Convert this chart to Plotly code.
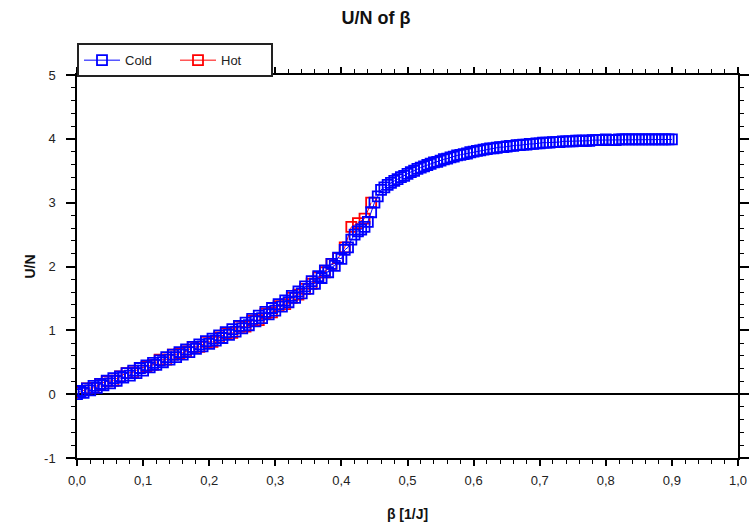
import plotly.graph_objects as go

# ---- data ----
cold_beta = [round(0.005 * i, 3) for i in range(181)]
cold_u = [
    0.00, 0.05, 0.02, 0.09, 0.06, 0.13, 0.10, 0.16, 0.14, 0.21,
    0.17, 0.25, 0.21, 0.28, 0.26, 0.33, 0.29, 0.37, 0.33, 0.41,
    0.37, 0.45, 0.42, 0.49, 0.46, 0.53, 0.50, 0.58, 0.54, 0.62,
    0.58, 0.66, 0.62, 0.70, 0.66, 0.74, 0.71, 0.78, 0.75, 0.83,
    0.79, 0.87, 0.84, 0.92, 0.88, 0.97, 0.93, 1.02, 0.98, 1.07,
    1.03, 1.12, 1.08, 1.18, 1.14, 1.23, 1.19, 1.29, 1.25, 1.35,
    1.31, 1.41, 1.37, 1.47, 1.44, 1.54, 1.51, 1.61, 1.58, 1.69,
    1.65, 1.77, 1.73, 1.85, 1.82, 1.94, 1.91, 2.04, 2.01, 2.14,
    2.12, 2.26, 2.30, 2.42, 2.50, 2.55, 2.58, 2.62, 2.70, 2.85,
    3.00, 3.10, 3.20, 3.24, 3.28, 3.31, 3.34, 3.37, 3.40, 3.42,
    3.45, 3.48, 3.50, 3.53, 3.55, 3.57, 3.59, 3.61, 3.63, 3.64,
    3.66, 3.68, 3.69, 3.71, 3.72, 3.74, 3.75, 3.76, 3.77, 3.79,
    3.80, 3.81, 3.82, 3.83, 3.84, 3.85, 3.85, 3.86, 3.87, 3.87,
    3.88, 3.89, 3.89, 3.90, 3.90, 3.91, 3.91, 3.92, 3.92, 3.93,
    3.93, 3.94, 3.94, 3.94, 3.95, 3.95, 3.95, 3.96, 3.96, 3.96,
    3.96, 3.97, 3.97, 3.97, 3.97, 3.97, 3.98, 3.98, 3.98, 3.98,
    3.99, 3.98, 3.98, 3.98, 3.99, 3.99, 3.99, 3.99, 3.99, 3.99,
    3.99, 3.99, 3.99, 3.99, 3.99, 3.99, 3.99, 3.99, 3.99, 3.99,
    3.99,
]

hot_beta = [round(0.005 + 0.01 * i, 3) for i in range(45)]
hot_u = [0.03, 0.09, 0.10, 0.16, 0.20, 0.21, 0.28, 0.33, 0.34, 0.41,
         0.43, 0.46, 0.54, 0.54, 0.62, 0.63, 0.67, 0.74, 0.74, 0.82,
         0.82, 0.89, 0.95, 0.96, 1.06, 1.06, 1.15, 1.16, 1.26, 1.28,
         1.38, 1.41, 1.51, 1.56, 1.65, 1.73, 1.83, 1.91, 2.04, 2.13,
         2.30, 2.62, 2.68, 2.75, 3.00]

x_ticks = [0, 0.1, 0.2, 0.3, 0.4, 0.5, 0.6, 0.7, 0.8, 0.9, 1.0]
y_ticks = [-1, 0, 1, 2, 3, 4, 5]
y_tick_text = ["-1", "0", "1", "2", "3", "4", "5"]

fig = go.Figure()
fig.add_trace(go.Scatter(
    x=hot_beta, y=hot_u, name="Hot", mode="lines+markers",
    line=dict(color="#ff0000", width=1),
    marker=dict(symbol="square-open", size=10, color="#ff0000", line=dict(width=1.8)),
))
fig.add_trace(go.Scatter(
    x=cold_beta, y=cold_u, name="Cold", mode="lines+markers",
    line=dict(color="#0000ff", width=1),
    marker=dict(symbol="square-open", size=10, color="#0000ff", line=dict(width=1.8)),
))

font_family = "Liberation Sans, Arial, sans-serif"

fig.update_layout(
    width=752, height=527,
    margin=dict(l=77, r=14, t=75, b=69, autoexpand=False),
    paper_bgcolor="white", plot_bgcolor="white",
    separators=", ",
    font=dict(family=font_family, size=13, color="#222222"),
    title=dict(text="<b>U/N of β</b>", x=0.5, xanchor="center",
               y=1 - 18 / 527, yanchor="middle", yref="container",
               font=dict(size=18, color="#111111")),
    showlegend=True,
    legend=dict(orientation="h", traceorder="reversed",
                x=0.0, xanchor="left", y=1.083, yanchor="top",
                bordercolor="#222222", borderwidth=2, bgcolor="white",
                font=dict(size=13), itemwidth=36,
                entrywidth=45, entrywidthmode="pixels"),
    xaxis=dict(range=[0, 1], tickvals=x_ticks, tickformat=".1f",
               showline=True, linecolor="black", linewidth=1.5, mirror="ticks",
               ticks="outside", ticklen=6, tickwidth=1.5, tickcolor="black",
               ticklabelstandoff=4, automargin=False,
               minor=dict(dtick=0.02, ticks="outside", ticklen=4, tickwidth=1, tickcolor="black"),
               showgrid=False, zeroline=False,
               title=dict(text="<b>β [1/J]</b>", standoff=22, font=dict(size=14, color="#111111"))),
    yaxis=dict(range=[-1, 5], tickvals=y_ticks, ticktext=y_tick_text,
               showline=True, linecolor="black", linewidth=1.5, mirror="ticks",
               ticks="outside", ticklen=9, tickwidth=1.5, tickcolor="black",
               ticklabelstandoff=8, automargin=False,
               minor=dict(dtick=0.2, ticks="outside", ticklen=4, tickwidth=1, tickcolor="black"),
               showgrid=False, zeroline=True, zerolinecolor="black", zerolinewidth=1.5,
               title=dict(text="<b>U/N</b>", standoff=5, font=dict(size=14, color="#111111"))),
)

fig.write_html("out.html")
